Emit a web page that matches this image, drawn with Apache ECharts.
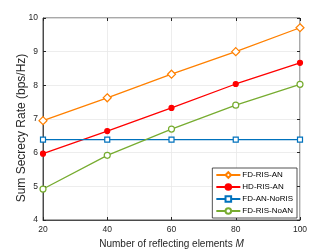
<!DOCTYPE html>
<html><head><meta charset="utf-8">
<script src="https://cdn.jsdelivr.net/npm/echarts@6/dist/echarts.min.js"></script>
<style>html,body{margin:0;padding:0;background:#fff}#c{width:332px;height:249px}</style>
</head><body><div id="c"></div>
<script>
const categories = [20, 40, 60, 80, 100];
const fdRisAn = [6.95, 7.63, 8.33, 9.0, 9.71];
const hdRisAn = [5.97, 6.64, 7.33, 8.04, 8.67];
const fdAnNoRis = [6.39, 6.39, 6.39, 6.39, 6.39];
const fdRisNoAn = [4.92, 5.92, 6.70, 7.41, 8.03];
const yTicks = [4, 5, 6, 7, 8, 9, 10];
const yTitle = 'Sum Secrecy Rate (bps/Hz)';

const chart = echarts.init(document.getElementById('c'), null, {renderer: 'canvas'});
function pairs(arr){ return categories.map((x,i)=>[x, arr[i]]); }
const font = 'Liberation Sans, Arial, sans-serif';
const axisCol = '#262626';
function mk(name, data, color, symbol, filled, size){
  return {name, type:'line', data: pairs(data), symbol, symbolSize: size,
    lineStyle:{color, width:1.3}, itemStyle:{color: filled?color:'#fff', borderColor:color, borderWidth:1.2},
    color, showAllSymbol:true};
}
chart.setOption({
  animation:false,
  textStyle:{fontFamily:font},
  grid:{left:43, right:32, top:18, bottom:29, show:true, borderColor:axisCol, borderWidth:0.8, outerBoundsMode:'none', containLabel:false},
  graphic:[{type:'text', x:22, y:128, rotation:Math.PI/2,
    style:{text:yTitle, fontSize:12, fontFamily:font, fill:axisCol, textAlign:'center', textVerticalAlign:'middle'}}],
  xAxis:[{type:'value', min:20, max:100, interval:20,
    name:'Number of reflecting elements {i|M}', nameLocation:'middle', nameGap:17,
    nameTextStyle:{fontSize:10, color:axisCol, fontFamily:font, rich:{i:{fontStyle:'italic', fontSize:10, color:axisCol}}},
    axisLine:{lineStyle:{color:axisCol, width:0.8}}, axisTick:{inside:true, length:3, lineStyle:{color:axisCol}},
    axisLabel:{fontSize:8.5, color:axisCol, margin:5},
    splitLine:{show:true, lineStyle:{color:'#e8e8e8', width:0.8}}},
    {type:'value', position:'top', min:20, max:100, interval:20, axisLine:{show:false},
     axisTick:{inside:true, length:3, lineStyle:{color:axisCol}}, axisLabel:{show:false}, splitLine:{show:false}}],
  yAxis:[{type:'value', min:yTicks[0], max:yTicks[yTicks.length-1], interval:1,
    axisLine:{show:true, lineStyle:{color:axisCol, width:0.8}}, axisTick:{show:true, inside:true, length:3, lineStyle:{color:axisCol}},
    axisLabel:{fontSize:8.5, color:axisCol, margin:5},
    splitLine:{show:true, lineStyle:{color:'#e8e8e8', width:0.8}}},
    {type:'value', position:'right', min:4, max:10, interval:1, axisLine:{show:false},
     axisTick:{show:true, inside:true, length:3, lineStyle:{color:axisCol}}, axisLabel:{show:false}, splitLine:{show:false}}],
  legend:{orient:'vertical', right:35, bottom:31, itemWidth:24, itemHeight:7, itemGap:4,
    padding:[3,4,3,3], backgroundColor:'#fff', borderColor:axisCol, borderWidth:0.8,
    textStyle:{fontSize:8, color:'#000', fontFamily:font, padding:[0,0,0,-3]},
    data:['FD-RIS-AN','HD-RIS-AN','FD-AN-NoRIS','FD-RIS-NoAN']},
  series:[
    mk('FD-RIS-AN', fdRisAn, '#FF8000', 'diamond', false, 8),
    mk('HD-RIS-AN', hdRisAn, '#FF0000', 'circle', true, 5),
    mk('FD-AN-NoRIS', fdAnNoRis, '#0072BD', 'rect', false, 5),
    mk('FD-RIS-NoAN', fdRisNoAn, '#77AC30', 'circle', false, 6)
  ]
});
</script></body></html>
